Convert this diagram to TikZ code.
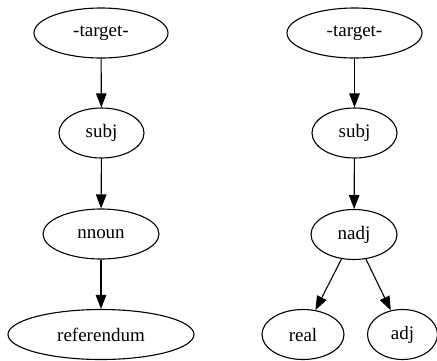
\documentclass[tikz,border=0pt]{standalone}
\usepackage{fontspec}
\setmainfont{Liberation Serif}
\usetikzlibrary{shapes.geometric,arrows.meta}
\begin{document}
\begin{tikzpicture}[x=1pt,y=-1pt,
  nd/.style={draw,ellipse,line width=1.1pt,inner sep=0pt,minimum height=50pt,font=\fontsize{19}{22}\selectfont},
  ed/.style={draw,line width=1.1pt,-{Triangle[length=14pt,width=10.5pt]}}]
\useasboundingbox (0,0) rectangle (437,360);
% left graph
\node[nd,minimum width=134pt] (lt) at (101,33) {-target-};
\node[nd,minimum width=85pt] (ls) at (101.5,133) {subj};
\node[nd,minimum width=116pt] (ln) at (101,234) {nnoun};
\node[nd,minimum width=186pt] (lr) at (101,334.5) {referendum};
% right graph
\node[nd,minimum width=135pt] (rt) at (354.5,33) {-target-};
\node[nd,minimum width=85pt] (rs) at (354.5,133) {subj};
\node[nd,minimum width=86pt] (rn) at (354,234.5) {nadj};
\node[nd,minimum width=82pt] (rr) at (303,334.5) {real};
\node[nd,minimum width=70pt] (ra) at (402.5,334.5) {adj};
\draw[ed] (lt) -- (ls);
\draw[ed] (ls) -- (ln);
\draw[ed] (ln) -- (lr);
\draw[ed] (rt) -- (rs);
\draw[ed] (rs) -- (rn);
\draw[ed] (rn) -- (rr);
\draw[ed] (rn) -- (ra);
\end{tikzpicture}
\end{document}
